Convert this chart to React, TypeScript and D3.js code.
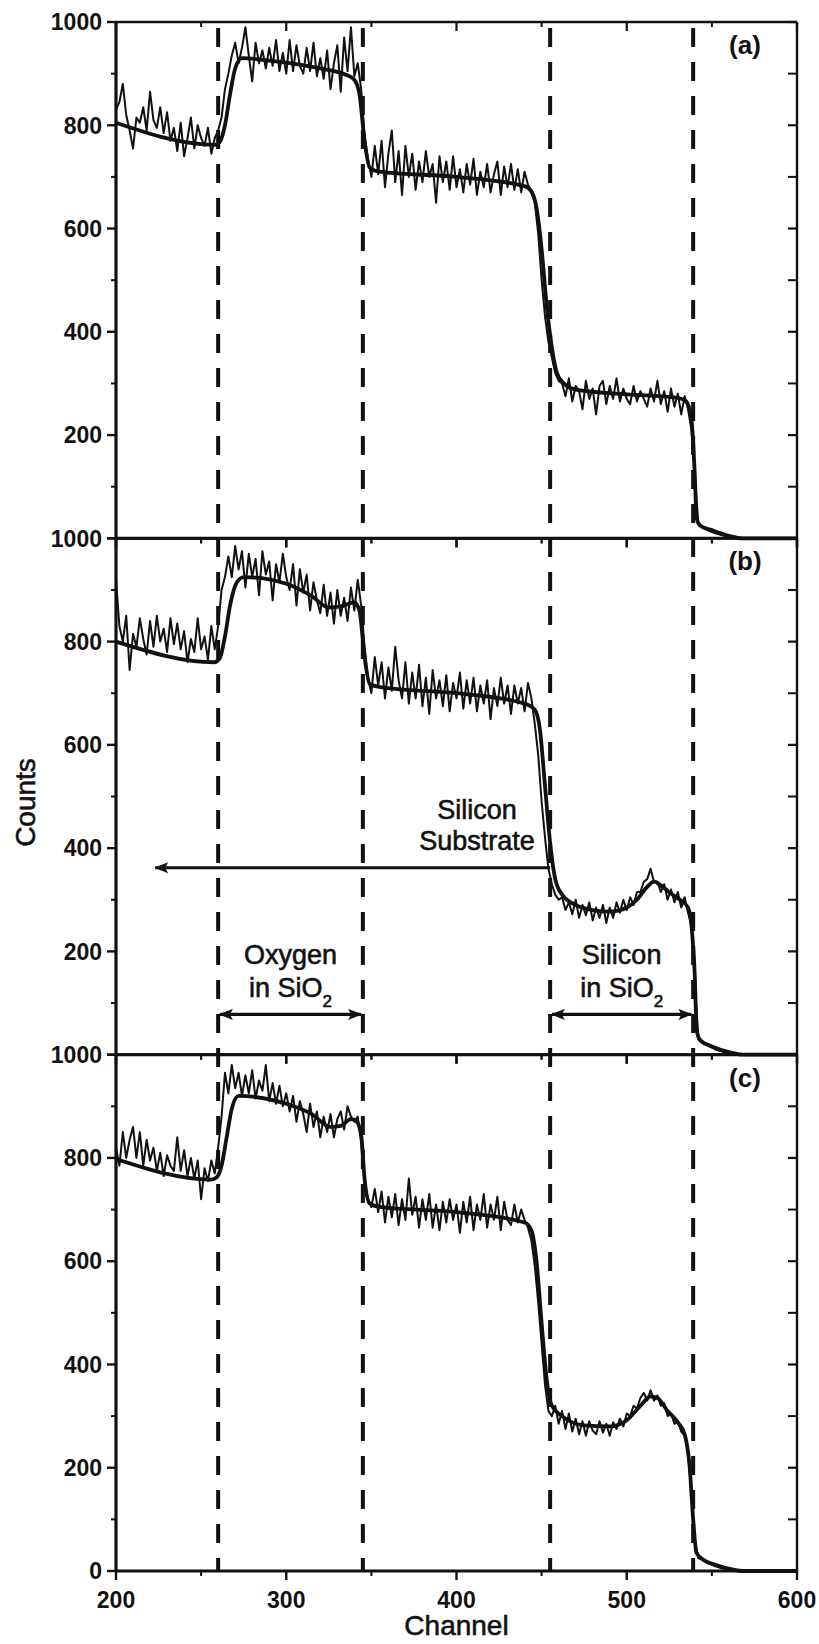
import React from "react";
import * as d3 from "d3";

type P = [number, number];

// ---- data ----
const CHANNEL_TICKS = [200, 300, 400, 500, 600];
const CHANNEL_MINOR = [250, 350, 450, 550];
const COUNT_TICKS = [0, 200, 400, 600, 800, 1000];
const COUNT_MINOR = [100, 300, 500, 700, 900];
const BOUNDARIES = [260, 345, 455, 539];
const PANEL_LABELS = ["(a)", "(b)", "(c)"];

const measuredA: P[] = [
  [200,830],[202,845],[204,880],[206,820],[208,790],[210,755],[212,815],[214,805],[216,835],[218,790],
  [220,865],[222,810],[224,795],[226,835],[228,785],[230,825],[232,770],[234,795],[236,750],[238,805],
  [240,740],[242,775],[244,815],[246,755],[248,800],[250,775],[252,760],[254,795],[256,745],[258,775],
  [260,790],[262,815],[264,870],[266,900],[268,935],[270,960],[272,920],[274,950],[276,990],[278,935],
  [280,885],[282,960],[284,920],[286,945],[288,910],[290,950],[292,915],[294,965],[296,905],[298,940],
  [300,900],[302,965],[304,905],[306,955],[308,915],[310,900],[312,950],[314,905],[316,960],[318,895],
  [320,930],[322,890],[324,945],[326,870],[328,920],[330,955],[332,865],[334,970],[336,905],[338,990],
  [340,895],[342,920],[344,870],[346,780],[348,735],[350,700],[352,760],[354,705],[356,770],[358,680],
  [360,745],[362,790],[364,690],[366,750],[368,665],[370,760],[372,700],[374,745],[376,675],[378,730],
  [380,690],[382,750],[384,700],[386,725],[388,650],[390,740],[392,690],[394,730],[396,675],[398,740],
  [400,680],[402,715],[404,670],[406,725],[408,685],[410,735],[412,665],[414,710],[416,680],[418,725],
  [420,670],[422,705],[424,730],[426,665],[428,720],[430,680],[432,725],[434,675],[436,715],[438,670],
  [440,710],[442,685],[444,670],[446,650],[448,590],[450,500],[452,430],[454,380],[456,350],[458,320],
  [460,305],[462,300],[464,275],[466,310],[468,265],[470,295],[472,285],[474,250],[476,305],[478,270],
  [480,290],[482,240],[484,295],[486,305],[488,260],[490,295],[492,270],[494,310],[496,265],[498,290],
  [500,270],[502,260],[504,295],[506,265],[508,285],[510,270],[512,255],[514,290],[516,265],[518,305],
  [520,260],[522,285],[524,245],[526,290],[528,255],[530,280],[532,240],[534,275],[536,250],[538,210],
  [540,120],[542,30],[544,22],[546,18],[548,15],[550,12],[552,10],[554,8],[556,6],[558,4],
  [560,3],[562,2],[564,1],[566,0],[580,0],[600,0],
];

const fitA: P[] = [
  [200,805],[258,762],[261,768],[264,800],[267,860],[270,910],[274,930],[290,925],[320,910],[335,898],
  [340,888],[343,860],[346,770],[349,718],[355,710],[400,700],[440,682],[444,672],[447,640],[450,560],
  [453,450],[456,370],[459,320],[463,300],[470,288],[500,279],[530,272],[535,265],[538,230],[540,120],
  [541,40],[543,25],[550,16],[560,5],[568,0],[600,0],
];

const measuredB: P[] = [
  [200,920],[202,830],[204,800],[206,850],[208,745],[210,815],[212,790],[214,845],[216,805],[218,775],
  [220,840],[222,790],[224,850],[226,800],[228,825],[230,780],[232,845],[234,795],[236,835],[238,785],
  [240,820],[242,760],[244,805],[246,780],[248,845],[250,785],[252,810],[254,765],[256,830],[258,785],
  [260,830],[262,900],[264,925],[266,965],[268,925],[270,985],[272,940],[274,975],[276,905],[278,970],
  [280,925],[282,960],[284,890],[286,975],[288,930],[290,955],[292,880],[294,950],[296,915],[298,970],
  [300,925],[302,900],[304,950],[306,870],[308,940],[310,895],[312,930],[314,860],[316,915],[318,880],
  [320,855],[322,910],[324,850],[326,895],[328,835],[330,900],[332,850],[334,885],[336,840],[338,905],
  [340,860],[342,920],[344,870],[346,790],[348,730],[350,700],[352,770],[354,715],[356,760],[358,690],
  [360,750],[362,705],[364,790],[366,725],[368,690],[370,760],[372,680],[374,740],[376,690],[378,755],
  [380,675],[382,730],[384,660],[386,745],[388,690],[390,725],[392,675],[394,735],[396,665],[398,720],
  [400,690],[402,740],[404,670],[406,725],[408,680],[410,730],[412,665],[414,715],[416,680],[418,725],
  [420,650],[422,710],[424,675],[426,730],[428,680],[430,715],[432,660],[434,715],[436,680],[438,710],
  [440,665],[442,720],[444,690],[446,640],[448,580],[450,490],[452,420],[454,360],[456,330],[458,310],
  [460,300],[462,305],[464,280],[466,295],[468,272],[470,300],[472,265],[474,290],[476,270],[478,295],
  [480,260],[482,285],[484,265],[486,290],[488,255],[490,285],[492,265],[494,295],[496,275],[498,300],
  [500,280],[502,305],[504,290],[506,315],[508,315],[510,335],[512,340],[514,360],[516,335],[518,335],
  [520,315],[522,330],[524,300],[526,320],[528,295],[530,315],[532,285],[534,305],[536,275],[538,250],
  [540,140],[542,35],[544,28],[546,22],[548,18],[550,14],[552,10],[554,8],[556,6],[558,4],
  [560,3],[562,2],[564,1],[566,0],[580,0],[600,0],
];

const fitB: P[] = [
  [200,800],[258,760],[261,768],[264,810],[267,870],[271,915],[275,925],[300,912],[315,888],[325,866],
  [332,868],[340,876],[343,860],[346,770],[349,718],[355,712],[400,700],[440,680],[446,668],[449,630],
  [452,520],[455,410],[458,340],[462,310],[470,290],[480,280],[490,277],[500,285],[506,300],[512,325],
  [516,335],[520,328],[526,312],[532,298],[536,285],[538,250],[540,150],[541,50],[543,28],[550,16],
  [560,5],[568,0],[600,0],
];

const measuredC: P[] = [
  [200,820],[202,785],[204,850],[206,800],[208,835],[210,860],[212,800],[214,850],[216,785],[218,835],
  [220,795],[222,820],[224,775],[226,810],[228,765],[230,805],[232,785],[234,775],[236,840],[238,775],
  [240,815],[242,765],[244,800],[246,760],[248,795],[250,720],[252,780],[254,755],[256,795],[258,770],
  [260,820],[262,880],[264,965],[266,925],[268,980],[270,935],[272,965],[274,920],[276,960],[278,925],
  [280,970],[282,915],[284,950],[286,930],[288,980],[290,910],[292,945],[294,905],[296,940],[298,900],
  [300,925],[302,890],[304,920],[306,870],[308,910],[310,885],[312,850],[314,905],[316,860],[318,890],
  [320,840],[322,880],[324,850],[326,885],[328,840],[330,875],[332,890],[334,855],[336,900],[338,880],
  [340,870],[342,880],[344,830],[346,750],[348,720],[350,705],[352,740],[354,695],[356,735],[358,675],
  [360,725],[362,685],[364,730],[366,670],[368,720],[370,680],[372,760],[374,690],[376,725],[378,665],
  [380,720],[382,680],[384,730],[386,665],[388,710],[390,660],[392,715],[394,675],[396,720],[398,680],
  [400,710],[402,655],[404,715],[406,675],[408,725],[410,660],[412,710],[414,680],[416,730],[418,665],
  [420,710],[422,680],[424,725],[426,660],[428,715],[430,680],[432,670],[434,710],[436,675],[438,700],
  [440,680],[442,665],[444,640],[446,590],[448,520],[450,440],[452,360],[454,310],[456,300],[458,320],
  [460,285],[462,310],[464,275],[466,305],[468,270],[470,295],[472,265],[474,290],[476,262],[478,290],
  [480,272],[482,265],[484,290],[486,268],[488,285],[490,262],[492,288],[494,275],[496,295],[498,280],
  [500,305],[502,300],[504,320],[506,315],[508,335],[510,345],[512,330],[514,350],[516,330],[518,340],
  [520,320],[522,325],[524,300],[526,305],[528,285],[530,290],[532,270],[534,262],[536,230],[538,150],
  [540,60],[542,25],[544,22],[546,18],[548,15],[550,12],[552,9],[554,7],[556,5],[558,4],
  [560,3],[562,2],[564,1],[566,0],[580,0],[600,0],
];

const fitC: P[] = [
  [200,798],[256,758],[259,762],[262,785],[265,840],[268,895],[272,920],[300,905],[315,885],[326,860],
  [332,862],[338,875],[341,872],[344,845],[346,760],[349,712],[355,705],[400,695],[440,675],[444,660],
  [447,600],[450,480],[453,370],[456,320],[462,300],[475,282],[490,280],[500,292],[508,320],[514,338],
  [518,335],[524,310],[530,288],[534,265],[537,200],[539,100],[541,35],[545,22],[552,12],[562,3],
  [568,0],[600,0],
];

const MEASURED = [measuredA, measuredB, measuredC];
const FITS = [fitA, fitB, fitC];

// ---- layout ----
const W = 819;
const H = 1644;
const LEFT = 116;
const RIGHT = 797;
const TOP = 22;
const BOTTOM = 1571;
const FONT = "'Liberation Sans', Arial, Helvetica, sans-serif";
const INK = "#111";

export default function App() {
  const panelH = (BOTTOM - TOP) / 3;
  const x = d3.scaleLinear().domain([200, 600]).range([LEFT, RIGHT]);
  const ys = [0, 1, 2].map((i) =>
    d3.scaleLinear().domain([0, 1000]).range([TOP + panelH * (i + 1), TOP + panelH * i])
  );
  const lineGen = (y: d3.ScaleLinear<number, number>, curve: any) =>
    d3
      .line<P>()
      .x((d) => x(d[0]))
      .y((d) => y(d[1]))
      .curve(curve);

  const yB = ys[1];
  const textStyle = { fill: INK, stroke: INK, strokeWidth: 0.6 };

  return (
    <svg
      width={W}
      height={H}
      viewBox={`0 0 ${W} ${H}`}
      style={{ position: "absolute", left: 0, top: 0, background: "#fff" }}
      fontFamily={FONT}
    >
      <defs>
        <marker
          id="ah"
          viewBox="0 0 14 11"
          refX="13"
          refY="5.5"
          markerWidth="14"
          markerHeight="11"
          markerUnits="userSpaceOnUse"
          orient="auto-start-reverse"
        >
          <path d="M0,0 L14,5.5 L0,11 L3,5.5 Z" fill={INK} />
        </marker>
      </defs>
      <rect x={0} y={0} width={W} height={H} fill="#fff" />

      {ys.map((y, i) => {
        const top = y(1000);
        const bot = y(0);
        return (
          <g key={i}>
            {/* data */}
            <path
              d={lineGen(y, d3.curveLinear)(MEASURED[i]) || ""}
              fill="none"
              stroke={INK}
              strokeWidth={2}
              strokeLinejoin="round"
            />
            <path
              d={lineGen(y, d3.curveMonotoneX)(FITS[i]) || ""}
              fill="none"
              stroke={INK}
              strokeWidth={3.8}
              strokeLinejoin="round"
            />
            {/* frame */}
            <line x1={LEFT} x2={LEFT} y1={top} y2={bot} stroke={INK} strokeWidth={3.2} />
            <line x1={RIGHT} x2={RIGHT} y1={top} y2={bot} stroke={INK} strokeWidth={2.4} />
            <line x1={LEFT} x2={RIGHT} y1={top} y2={top} stroke={INK} strokeWidth={2.6} />
            <line x1={LEFT} x2={RIGHT} y1={bot} y2={bot} stroke={INK} strokeWidth={3} />
            {/* y ticks */}
            {COUNT_TICKS.map((t) => (
              <g key={"yt" + t}>
                <line x1={LEFT - 9} x2={LEFT} y1={y(t)} y2={y(t)} stroke={INK} strokeWidth={2.4} />
                <line x1={RIGHT - 9} x2={RIGHT} y1={y(t)} y2={y(t)} stroke={INK} strokeWidth={2.2} />
                {(t > 0 || i === 2) && (
                  <text
                    x={LEFT - 14}
                    y={y(t)}
                    dy="0.36em"
                    textAnchor="end"
                    fontSize={23}
                    fontWeight="bold"
                    fill={INK}
                  >
                    {t}
                  </text>
                )}
              </g>
            ))}
            {COUNT_MINOR.map((t) => (
              <g key={"ym" + t}>
                <line x1={LEFT - 5} x2={LEFT} y1={y(t)} y2={y(t)} stroke={INK} strokeWidth={2} />
                <line x1={RIGHT - 9} x2={RIGHT} y1={y(t)} y2={y(t)} stroke={INK} strokeWidth={2} />
              </g>
            ))}
            {/* x ticks */}
            {CHANNEL_TICKS.map((t) => (
              <g key={"xt" + t}>
                <line x1={x(t)} x2={x(t)} y1={bot} y2={bot + 9} stroke={INK} strokeWidth={2.4} />
                <line x1={x(t)} x2={x(t)} y1={top} y2={top + 9} stroke={INK} strokeWidth={2.2} />
              </g>
            ))}
            {CHANNEL_MINOR.map((t) => (
              <g key={"xm" + t}>
                <line x1={x(t)} x2={x(t)} y1={bot} y2={bot + 5} stroke={INK} strokeWidth={2} />
                <line x1={x(t)} x2={x(t)} y1={top} y2={top + 5} stroke={INK} strokeWidth={2} />
              </g>
            ))}
            <text
              x={745}
              y={top + 32}
              textAnchor="middle"
              fontSize={26}
              fontWeight="bold"
              fill={INK}
            >
              {PANEL_LABELS[i]}
            </text>
          </g>
        );
      })}

      {/* boundary dashed lines */}
      {BOUNDARIES.map((b) => (
        <line
          key={"b" + b}
          x1={x(b)}
          x2={x(b)}
          y1={TOP}
          y2={BOTTOM}
          stroke={INK}
          strokeWidth={4}
          strokeDasharray="19 15"
          strokeDashoffset={-6}
        />
      ))}

      {/* x tick labels */}
      {CHANNEL_TICKS.map((t) => (
        <text
          key={"xl" + t}
          x={x(t)}
          y={BOTTOM + 37}
          textAnchor="middle"
          fontSize={23}
          fontWeight="bold"
          fill={INK}
        >
          {t}
        </text>
      ))}
      <text x={(LEFT + RIGHT) / 2} y={BOTTOM + 64} textAnchor="middle" fontSize={28} {...textStyle}>
        Channel
      </text>
      <text
        transform={`translate(35, ${(TOP + BOTTOM) / 2 + 6}) rotate(-90)`}
        textAnchor="middle"
        fontSize={28}
        {...textStyle}
      >
        Counts
      </text>

      {/* annotations in panel (b) */}
      <line
        x1={x(455)}
        x2={x(223)}
        y1={yB(362)}
        y2={yB(362)}
        stroke={INK}
        strokeWidth={3.2}
        markerEnd="url(#ah)"
      />
      <text x={x(412)} y={yB(457)} textAnchor="middle" fontSize={27} {...textStyle}>
        Silicon
      </text>
      <text x={x(412)} y={yB(397)} textAnchor="middle" fontSize={27} {...textStyle}>
        Substrate
      </text>

      <text x={x(302.5)} y={yB(175)} textAnchor="middle" fontSize={27} {...textStyle}>
        Oxygen
      </text>
      <text x={x(302.5)} y={yB(111)} textAnchor="middle" fontSize={27} {...textStyle}>
        in SiO<tspan fontSize={17} dy={10}>2</tspan>
      </text>
      <line
        x1={x(261)}
        x2={x(344)}
        y1={yB(78)}
        y2={yB(78)}
        stroke={INK}
        strokeWidth={3.2}
        markerStart="url(#ah)"
        markerEnd="url(#ah)"
      />

      <text x={x(497)} y={yB(175)} textAnchor="middle" fontSize={27} {...textStyle}>
        Silicon
      </text>
      <text x={x(497)} y={yB(111)} textAnchor="middle" fontSize={27} {...textStyle}>
        in SiO<tspan fontSize={17} dy={10}>2</tspan>
      </text>
      <line
        x1={x(456)}
        x2={x(538)}
        y1={yB(78)}
        y2={yB(78)}
        stroke={INK}
        strokeWidth={3.2}
        markerStart="url(#ah)"
        markerEnd="url(#ah)"
      />
    </svg>
  );
}
